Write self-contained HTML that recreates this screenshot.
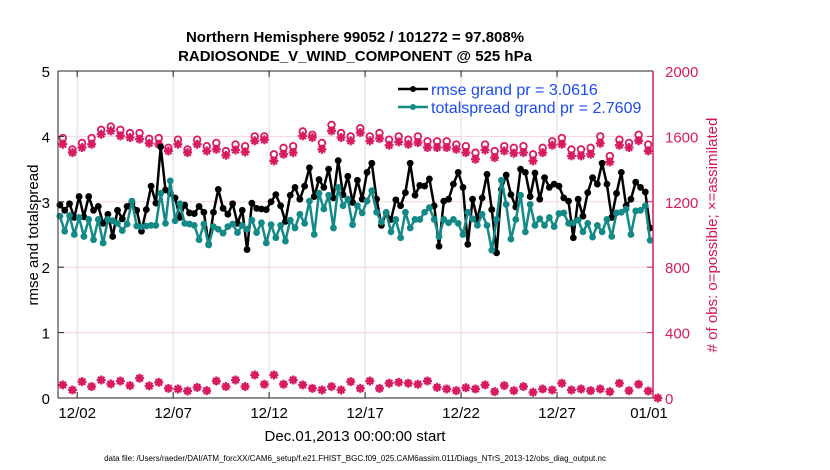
<!DOCTYPE html>
<html><head><meta charset="utf-8"><style>
body{margin:0;background:#fff;}
svg{display:block;font-family:"Liberation Sans",Arial,sans-serif;}
</style></head><body>
<svg id="chart" width="830" height="470" viewBox="0 0 830 470" xmlns="http://www.w3.org/2000/svg">
<rect width="830" height="470" fill="#fff"/>
<g id="grid"></g>
<g id="series"></g>
<g id="axes"></g>
<text x="355" y="42" text-anchor="middle" font-size="15" font-weight="bold">Northern Hemisphere 99052 / 101272 = 97.808%</text>
<text x="355" y="61" text-anchor="middle" font-size="15" font-weight="bold">RADIOSONDE_V_WIND_COMPONENT @ 525 hPa</text>
<text x="0" y="0" transform="translate(38,235) rotate(-90)" text-anchor="middle" font-size="15">rmse and totalspread</text>
<text x="0" y="0" transform="translate(717,235) rotate(-90)" text-anchor="middle" font-size="15" fill="#d6135a"># of obs: o=possible; ×=assimilated</text>
<text x="355" y="441" text-anchor="middle" font-size="15">Dec.01,2013 00:00:00 start</text>
<text x="355" y="461" text-anchor="middle" font-size="8">data file: /Users/raeder/DAI/ATM_forcXX/CAM6_setup/f.e21.FHIST_BGC.f09_025.CAM6assim.011/Diags_NTrS_2013-12/obs_diag_output.nc</text>
<g>
<line x1="398" y1="89" x2="428" y2="89" stroke="#000" stroke-width="2.5"/>
<circle cx="413" cy="89" r="3" fill="#000"/>
<text x="431" y="95" font-size="16" fill="#1a4cf0">rmse grand pr = 3.0616</text>
<line x1="398" y1="107" x2="428" y2="107" stroke="#138a87" stroke-width="2.5"/>
<circle cx="413" cy="107" r="3" fill="#138a87"/>
<text x="431" y="113" font-size="16" fill="#1a4cf0">totalspread grand pr = 2.7609</text>
</g>
</svg>
<script>
const xTickLabels=["12/02","12/07","12/12","12/17","12/22","12/27","01/01"];
const xTickDays=[1,6,11,16,21,26,31];
const yLeftTicks=[0,1,2,3,4,5];
const yRightTicks=[0,400,800,1200,1600,2000];
const rmse=[2.95,2.87,2.97,2.76,3.08,2.77,3.08,2.87,2.93,2.67,2.81,2.47,2.87,2.74,2.93,2.98,2.87,2.55,2.88,3.24,2.98,3.84,3.18,3.13,3.06,2.76,2.95,2.83,2.82,2.93,2.84,2.35,2.84,3.19,2.90,2.81,2.97,2.67,2.87,2.27,2.98,2.90,
2.89,2.88,3.00,3.11,2.94,2.70,3.10,3.22,3.04,3.24,3.52,3.08,3.34,3.22,3.50,3.06,3.63,3.11,3.39,2.99,3.33,3.04,3.45,3.59,3.04,2.64,2.83,2.73,3.03,2.94,3.14,3.59,3.10,3.25,3.24,3.35,2.94,2.32,3.01,3.04,3.27,3.45,
3.22,2.35,3.04,2.73,3.06,3.42,2.88,2.22,3.19,3.41,3.11,2.92,3.50,3.45,3.08,3.44,3.04,3.37,3.22,3.27,3.24,3.06,3.01,2.45,3.04,2.78,3.14,3.37,3.27,3.59,3.27,2.76,3.13,3.45,2.94,3.04,3.30,3.22,3.15,2.60];
const spread=[2.78,2.55,2.79,2.50,2.76,2.47,2.73,2.42,2.73,2.37,2.73,2.71,2.67,2.56,2.66,3.01,2.63,2.62,2.63,2.64,2.64,3.13,2.67,3.32,2.71,2.97,2.67,2.66,2.64,2.42,2.66,2.34,2.62,2.58,2.52,2.62,2.66,2.53,2.64,2.58,2.72,2.53,
2.68,2.37,2.65,2.45,2.64,2.40,2.72,2.60,2.81,2.67,3.01,2.50,3.13,2.89,3.10,2.60,3.22,2.94,3.04,2.65,2.94,2.83,3.01,3.17,2.84,2.69,2.84,2.54,2.73,2.45,2.84,2.60,2.73,2.73,2.84,2.91,2.73,2.47,2.73,2.68,2.73,2.67,
2.50,2.84,2.74,2.64,2.81,2.64,2.26,2.73,3.33,2.96,2.43,2.73,3.10,2.54,2.96,2.64,2.74,2.64,2.76,2.62,2.82,2.83,2.67,2.68,2.72,2.54,2.67,2.46,2.64,2.54,2.73,2.47,2.83,2.84,2.89,2.50,2.86,2.87,2.94,2.41];
const assimTop=[1552,1501,1532,1552,1613,1634,1603,1593,1583,1558,1552,1511,1552,1501,1552,1511,1521,1485,1517,1505,1573,1579,
1450,1491,1501,1603,1593,1521,1634,1593,1573,1624,1573,1587,1546,1566,1552,1562,1532,1532,1532,1521,
1501,1460,1517,1470,1511,1497,1501,1450,1501,1546,1552,1481,1481,1491,1558,1444,1546,1532,1573,1511];
const possTop=[1590,1520,1560,1590,1640,1660,1640,1620,1620,1585,1590,1530,1580,1520,1580,1540,1560,1510,1550,1540,1600,1600,
1490,1530,1540,1630,1610,1560,1670,1620,1600,1650,1600,1620,1580,1600,1580,1600,1570,1570,1570,1550,
1540,1500,1550,1510,1540,1530,1540,1490,1530,1570,1590,1520,1520,1530,1600,1480,1580,1560,1610,1550];
const assimBot=[80,49,100,70,110,86,104,76,121,74,96,59,55,43,65,45,104,70,110,70,141,84,141,84,110,80,59,49,70,49,100,
59,104,59,90,96,90,84,104,65,55,45,63,55,80,39,76,45,70,35,55,49,90,49,55,45,55,39,90,45,84,43,0];

const X0=58,X1=653,Y0=398,Y1=71;
const xs=d=>X0+(X1-X0)*d/31;
const yl=v=>Y0-(Y0-Y1)*v/5;
const yr=v=>Y0-(Y0-Y1)*v/2000;
const NS="http://www.w3.org/2000/svg";
function mk(tag,attrs,parent){const e=document.createElementNS(NS,tag);for(const k in attrs)e.setAttribute(k,attrs[k]);parent.appendChild(e);return e;}
const grid=document.getElementById('grid'),ser=document.getElementById('series'),axes=document.getElementById('axes');
const RED="#d81b60",TEAL="#138a87";

xTickDays.forEach((d,i)=>{
  const g=mk('line',{x1:xs(d),x2:xs(d),y1:Y1,y2:Y0,stroke:'#dcdcdc','stroke-width':1},grid);
  
  
  const t=mk('line',{x1:xs(d),x2:xs(d),y1:Y0,y2:Y0-6,stroke:'#222'},axes);
  
  
  const t2=mk('line',{x1:xs(d),x2:xs(d),y1:Y1,y2:Y1+6,stroke:'#222'},axes);
  
  
  const lb=mk('text',{x:xs(d)-(i==6?4:0),y:Y0+20,'text-anchor':'middle','font-size':15},axes);
  lb.textContent=xTickLabels[i];
  
  
});
yRightTicks.forEach((v,i)=>{
  if(i>0&&i<5){const g=mk('line',{x1:X0,x2:X1,y1:yr(v),y2:yr(v),stroke:'#f3d3df','stroke-width':1},grid);
  
  }
  const t=mk('line',{x1:X1,x2:X1-6,y1:yr(v),y2:yr(v),stroke:RED},axes);
  
  
  const lb=mk('text',{x:X1+12,y:yr(v)+6,'font-size':15,fill:RED},axes);
  lb.textContent=v;
  
  
});
yLeftTicks.forEach(v=>{
  const t=mk('line',{x1:X0,x2:X0+6,y1:yl(v),y2:yl(v),stroke:'#222'},axes);
  
  
  const lb=mk('text',{x:X0-8,y:yl(v)+6,'text-anchor':'end','font-size':15},axes);
  lb.textContent=v;
  
  
});
let a=mk('line',{x1:X0,x2:X0,y1:Y1,y2:Y0,stroke:'#222'},axes);


a=mk('line',{x1:X0,x2:X1,y1:Y0,y2:Y0,stroke:'#222'},axes);


a=mk('line',{x1:X0,x2:X1,y1:Y1,y2:Y1,stroke:'#222'},axes);


a=mk('line',{x1:X1,x2:X1,y1:Y1,y2:Y0,stroke:RED,'stroke-width':1.5},axes);



function star(cx,cy,name){
  const g=mk('g',{stroke:RED,'stroke-width':2.2},ser);
  
  
  const r=4.5;
  mk('line',{x1:cx-r,x2:cx+r,y1:cy,y2:cy},g);
  mk('line',{x1:cx,x2:cx,y1:cy-r,y2:cy+r},g);
  mk('line',{x1:cx-3.2,x2:cx+3.2,y1:cy-3.2,y2:cy+3.2},g);
  mk('line',{x1:cx-3.2,x2:cx+3.2,y1:cy+3.2,y2:cy-3.2},g);
}
possTop.forEach((v,i)=>{
  const c=mk('circle',{cx:xs(0.25+0.5*i),cy:yr(v),r:3.3,fill:'none',stroke:RED,'stroke-width':1.8},ser);
  
  
});
assimTop.forEach((v,i)=>star(xs(0.25+0.5*i),yr(v),'assimilated-count-point'));
assimBot.forEach((v,i)=>{
  const c=mk('circle',{cx:xs(0.25+0.5*i),cy:yr(v),r:3.5,fill:RED},ser);
  
  
  star(xs(0.25+0.5*i),yr(v),'assimilated-count-point-low');
});
function line(arr,color,name){
  const pts=arr.map((v,i)=>xs(0.1+0.25*i).toFixed(1)+','+yl(v).toFixed(1)).join(' ');
  const p=mk('polyline',{points:pts,fill:'none',stroke:color,'stroke-width':2.5,'stroke-linejoin':'round'},ser);
  
  
  arr.forEach((v,i)=>{
    const c=mk('circle',{cx:xs(0.1+0.25*i),cy:yl(v),r:3.4,fill:color},ser);
    
    
  });
}
line(rmse,'#000','rmse');
line(spread,TEAL,'totalspread');
</script>
</body></html>
